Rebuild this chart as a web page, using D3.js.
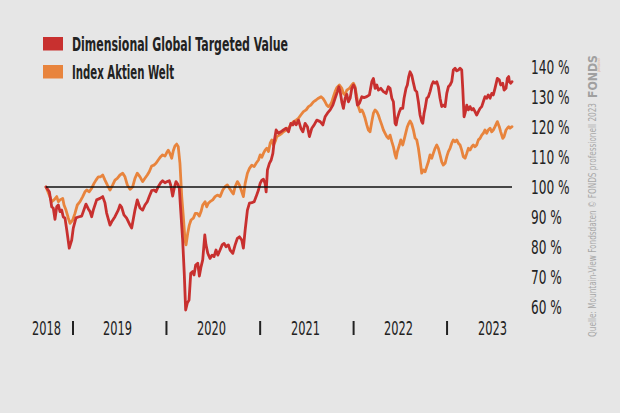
<!DOCTYPE html>
<html><head><meta charset="utf-8">
<script src="https://cdn.jsdelivr.net/npm/d3@7"></script>
<style>
html,body{margin:0;padding:0;background:#e6e6e6;}
svg{display:block;}
text{font-family:"Liberation Sans Narrow","DejaVu Sans Condensed","Roboto",sans-serif;}
</style></head>
<body>
<svg id="chart" width="620" height="413"></svg>
<script>
// Series: [decimal year, value in %]
const seriesNames = ["Dimensional Global Targeted Value", "Index Aktien Welt"];
const seriesColors = ["#c8302f", "#e8843d"];
const dimSeries = [[2018.711,100],[2018.747,98.4],[2018.772,93.4],[2018.789,93.0],[2018.807,89.2],[2018.826,93.4],[2018.843,94.0],[2018.861,91.8],[2018.879,92.3],[2018.896,90.0],[2018.914,89.7],[2018.933,85.7],[2018.960,79.6],[2018.986,82.3],[2019.003,86.3],[2019.032,89.7],[2019.057,90.0],[2019.093,90.3],[2019.110,91.8],[2019.139,94.3],[2019.164,92.7],[2019.182,91.8],[2019.200,90.1],[2019.217,92.3],[2019.253,95.7],[2019.289,96.2],[2019.318,96.8],[2019.342,94.7],[2019.360,91.3],[2019.396,87.3],[2019.414,88.4],[2019.449,90.1],[2019.484,92.3],[2019.503,94.0],[2019.521,93.2],[2019.545,90.7],[2019.574,89.6],[2019.610,87.3],[2019.628,86.3],[2019.663,92.3],[2019.688,95.7],[2019.717,93.0],[2019.745,92.3],[2019.770,94.0],[2019.795,95.1],[2019.816,96.8],[2019.842,98.8],[2019.866,99.0],[2019.888,98.4],[2019.912,100.1],[2019.938,101.4],[2019.959,102.1],[2019.984,101.4],[2020.009,101.8],[2020.030,102.1],[2020.045,100.7],[2020.066,97.0],[2020.083,99.6],[2020.102,101.8],[2020.120,101.0],[2020.137,99.6],[2020.152,92.3],[2020.173,82.3],[2020.190,71.2],[2020.205,59.0],[2020.222,61.3],[2020.241,62.3],[2020.259,71.2],[2020.280,71.8],[2020.294,70.7],[2020.312,74.0],[2020.334,74.6],[2020.351,70.3],[2020.369,73.4],[2020.387,75.7],[2020.409,84.0],[2020.422,80.7],[2020.441,77.9],[2020.465,76.2],[2020.487,77.3],[2020.508,76.8],[2020.529,79.0],[2020.548,77.3],[2020.572,79.0],[2020.594,80.7],[2020.615,81.2],[2020.636,80.1],[2020.661,80.7],[2020.679,79.0],[2020.708,77.9],[2020.733,80.7],[2020.757,82.9],[2020.779,83.4],[2020.804,82.3],[2020.821,79.6],[2020.840,85.7],[2020.864,92.3],[2020.886,94.6],[2020.911,94.8],[2020.936,95.1],[2020.957,96.8],[2020.982,99.0],[2021.000,101.2],[2021.018,102.3],[2021.035,102.6],[2021.053,101.2],[2021.064,98.4],[2021.078,105.7],[2021.099,107.9],[2021.118,109.0],[2021.136,111.2],[2021.150,115.1],[2021.171,119.0],[2021.196,117.9],[2021.221,118.4],[2021.249,119.0],[2021.278,119.6],[2021.303,118.4],[2021.328,121.2],[2021.350,120.7],[2021.364,121.8],[2021.385,120.7],[2021.410,122.3],[2021.435,119.6],[2021.457,118.4],[2021.481,121.2],[2021.506,120.1],[2021.527,116.8],[2021.553,119.6],[2021.578,120.7],[2021.606,122.3],[2021.642,121.8],[2021.671,120.7],[2021.695,123.4],[2021.720,124.6],[2021.749,125.7],[2021.778,127.3],[2021.802,129.6],[2021.827,131.8],[2021.842,133.4],[2021.856,131.8],[2021.874,128.4],[2021.891,126.2],[2021.909,129.6],[2021.927,130.9],[2021.944,128.4],[2021.963,129.6],[2021.981,132.9],[2021.998,134.0],[2022.016,132.9],[2022.027,130.1],[2022.041,127.3],[2022.062,127.9],[2022.088,130.1],[2022.112,129.8],[2022.141,130.1],[2022.169,130.7],[2022.195,135.1],[2022.212,136.2],[2022.230,132.9],[2022.248,134.0],[2022.265,132.3],[2022.291,132.9],[2022.319,131.8],[2022.348,131.2],[2022.372,133.4],[2022.390,132.9],[2022.409,129.6],[2022.426,128.4],[2022.444,121.2],[2022.455,120.7],[2022.468,122.9],[2022.490,125.1],[2022.505,126.2],[2022.526,126.2],[2022.540,129.6],[2022.561,132.9],[2022.575,134.0],[2022.590,136.8],[2022.604,138.4],[2022.622,137.3],[2022.640,134.7],[2022.658,132.3],[2022.676,131.7],[2022.693,128.4],[2022.711,124.0],[2022.729,121.8],[2022.740,121.2],[2022.754,124.6],[2022.765,126.2],[2022.783,129.6],[2022.800,130.1],[2022.818,131.8],[2022.836,134.0],[2022.853,135.1],[2022.872,134.6],[2022.890,135.1],[2022.907,133.4],[2022.925,129.6],[2022.943,126.8],[2022.960,127.3],[2022.979,126.8],[2022.997,131.2],[2023.014,133.4],[2023.032,134.0],[2023.050,135.1],[2023.067,139.0],[2023.086,139.6],[2023.104,138.7],[2023.121,139.0],[2023.139,139.6],[2023.157,139.0],[2023.168,132.9],[2023.182,123.4],[2023.193,124.6],[2023.211,127.3],[2023.228,125.7],[2023.246,126.8],[2023.264,125.7],[2023.281,126.2],[2023.299,125.1],[2023.317,124.0],[2023.335,125.1],[2023.353,126.2],[2023.371,126.8],[2023.388,128.4],[2023.406,130.1],[2023.424,129.6],[2023.441,130.7],[2023.460,129.6],[2023.478,131.2],[2023.495,130.7],[2023.513,132.9],[2023.538,136.2],[2023.559,135.7],[2023.574,134.0],[2023.596,134.6],[2023.610,132.3],[2023.631,132.9],[2023.645,136.2],[2023.660,136.8],[2023.667,135.1],[2023.682,134.6],[2023.695,135.1]];
const idxSeries = [[2018.711,100],[2018.747,97.3],[2018.772,95.1],[2018.797,95.7],[2018.826,96.8],[2018.843,95.1],[2018.861,95.7],[2018.890,96.2],[2018.904,94.0],[2018.925,92.3],[2018.950,89.6],[2018.968,87.9],[2018.997,89.0],[2019.021,91.2],[2019.046,94.0],[2019.075,95.1],[2019.104,96.8],[2019.128,98.4],[2019.147,99.0],[2019.174,98.4],[2019.200,99.6],[2019.225,101.2],[2019.246,102.3],[2019.271,103.4],[2019.296,103.4],[2019.318,104.0],[2019.342,102.3],[2019.367,100.7],[2019.396,99.0],[2019.425,100.7],[2019.449,102.3],[2019.474,102.9],[2019.503,104.0],[2019.532,104.6],[2019.556,103.4],[2019.581,100.7],[2019.610,99.2],[2019.639,100.1],[2019.663,102.9],[2019.688,104.6],[2019.717,103.4],[2019.745,101.8],[2019.770,102.9],[2019.795,104.0],[2019.816,105.1],[2019.842,107.0],[2019.866,107.3],[2019.888,107.9],[2019.912,109.0],[2019.938,110.1],[2019.959,110.7],[2019.984,110.3],[2020.002,111.4],[2020.019,112.3],[2020.037,111.2],[2020.056,109.6],[2020.073,112.1],[2020.091,113.7],[2020.109,114.3],[2020.126,113.4],[2020.144,107.9],[2020.163,96.8],[2020.180,90.1],[2020.198,82.3],[2020.209,80.7],[2020.227,84.6],[2020.244,87.3],[2020.262,89.0],[2020.287,89.6],[2020.308,91.2],[2020.329,91.2],[2020.351,90.3],[2020.369,91.8],[2020.387,94.0],[2020.412,95.1],[2020.430,93.4],[2020.447,94.6],[2020.465,95.1],[2020.494,95.7],[2020.519,96.8],[2020.543,97.3],[2020.572,96.8],[2020.601,99.0],[2020.626,100.1],[2020.650,100.7],[2020.672,99.6],[2020.697,98.4],[2020.714,97.7],[2020.733,100.1],[2020.757,101.8],[2020.779,100.7],[2020.804,98.4],[2020.821,96.8],[2020.840,101.2],[2020.864,104.6],[2020.886,106.2],[2020.911,107.3],[2020.936,106.8],[2020.957,107.9],[2020.982,109.0],[2021.000,110.7],[2021.018,109.9],[2021.035,111.2],[2021.053,112.3],[2021.071,112.9],[2021.089,111.8],[2021.107,114.6],[2021.125,115.7],[2021.142,114.0],[2021.160,115.1],[2021.178,116.8],[2021.206,117.3],[2021.232,117.9],[2021.249,118.4],[2021.278,119.0],[2021.303,119.6],[2021.328,120.7],[2021.356,121.8],[2021.385,122.3],[2021.410,122.9],[2021.435,124.0],[2021.463,125.1],[2021.492,125.7],[2021.517,126.8],[2021.542,127.3],[2021.570,128.4],[2021.599,129.0],[2021.624,129.6],[2021.652,130.1],[2021.671,129.6],[2021.695,128.4],[2021.713,127.3],[2021.731,126.8],[2021.749,127.3],[2021.767,128.4],[2021.784,130.1],[2021.802,131.8],[2021.820,133.1],[2021.848,134.0],[2021.874,132.9],[2021.891,131.2],[2021.909,130.7],[2021.927,132.3],[2021.955,132.9],[2021.981,134.0],[2021.998,134.6],[2022.016,133.4],[2022.034,130.1],[2022.051,126.8],[2022.070,125.1],[2022.088,125.7],[2022.105,124.6],[2022.123,122.9],[2022.141,120.7],[2022.158,119.0],[2022.176,118.4],[2022.195,121.8],[2022.212,124.6],[2022.230,125.7],[2022.248,125.1],[2022.265,124.0],[2022.283,122.3],[2022.301,120.7],[2022.319,119.0],[2022.337,117.9],[2022.355,116.8],[2022.372,116.2],[2022.390,117.3],[2022.409,115.1],[2022.426,113.4],[2022.444,110.7],[2022.455,109.6],[2022.468,111.8],[2022.490,114.0],[2022.505,115.7],[2022.526,114.0],[2022.540,115.7],[2022.561,118.4],[2022.575,120.1],[2022.590,121.2],[2022.604,122.0],[2022.622,121.0],[2022.640,119.0],[2022.658,116.3],[2022.676,115.7],[2022.693,113.0],[2022.711,109.0],[2022.729,104.6],[2022.746,105.7],[2022.765,105.1],[2022.783,106.8],[2022.800,108.4],[2022.818,110.7],[2022.836,109.6],[2022.853,111.2],[2022.872,112.9],[2022.890,114.0],[2022.907,112.9],[2022.925,110.7],[2022.943,108.4],[2022.960,107.3],[2022.979,107.9],[2022.997,110.1],[2023.014,111.8],[2023.032,112.9],[2023.050,114.6],[2023.067,115.7],[2023.086,115.1],[2023.104,115.7],[2023.121,114.6],[2023.139,114.0],[2023.157,112.3],[2023.174,110.1],[2023.193,109.6],[2023.211,111.2],[2023.228,112.9],[2023.246,112.3],[2023.264,113.4],[2023.281,114.0],[2023.299,113.4],[2023.317,114.0],[2023.335,115.7],[2023.353,116.2],[2023.371,117.3],[2023.388,117.9],[2023.406,119.0],[2023.424,117.9],[2023.441,119.0],[2023.460,119.6],[2023.478,118.4],[2023.495,119.0],[2023.513,120.1],[2023.538,121.8],[2023.559,120.1],[2023.574,118.4],[2023.596,116.2],[2023.610,116.8],[2023.631,119.0],[2023.645,119.6],[2023.660,120.1],[2023.674,119.6],[2023.695,120.1]];

const yTicks = [60, 70, 80, 90, 100, 110, 120, 130, 140];
const yearLabels = ["2018", "2019", "2020", "2021", "2022", "2023"];
const yearLabelPos = [2018.711, 2019.47, 2020.476, 2021.48, 2022.476, 2023.48];
const yearSeparators = [2019, 2020, 2021, 2022, 2023];
const baseline = 100;
const sourceText = "Quelle: Mountain-View Fondsdaten  \u00A9 FONDS professionell 2023";

function toDate(y) {
  const yr = Math.floor(y);
  const s = new Date(yr, 0, 1), e = new Date(yr + 1, 0, 1);
  return new Date(+s + (y - yr) * (e - s));
}
// condensed look: narrow glyph advance per character
function narrowLen(str, perChar) {
  let w = 0;
  for (const c of str) w += (c === " " ? 0.45 : c === "%" ? 1.5 : 1) * perChar;
  return w;
}

const svg = d3.select("#chart");
svg.append("rect").attr("width", 620).attr("height", 413).attr("fill", "#e6e6e6");

const allDates = dimSeries.concat(idxSeries).map(d => toDate(d[0]));
const x = d3.scaleTime().domain(d3.extent(allDates)).range([46, 512]);
const y = d3.scaleLinear().domain([60, 140]).range([307, 67]);

const line = d3.line().x(d => x(toDate(d[0]))).y(d => y(d[1])).curve(d3.curveLinear);

svg.append("path").datum(idxSeries).attr("d", line)
  .attr("fill", "none").attr("stroke", seriesColors[1]).attr("stroke-width", 2.8)
  .attr("stroke-linejoin", "round").attr("stroke-linecap", "round");
svg.append("path").datum(dimSeries).attr("d", line)
  .attr("fill", "none").attr("stroke", seriesColors[0]).attr("stroke-width", 2.8)
  .attr("stroke-linejoin", "round").attr("stroke-linecap", "round");

// baseline at 100 %
svg.append("line")
  .attr("x1", x(d3.min(allDates))).attr("x2", x(d3.max(allDates)))
  .attr("y1", y(baseline)).attr("y2", y(baseline))
  .attr("stroke", "#111").attr("stroke-width", 1.5);

// y axis (right)
const yAxis = d3.axisRight(y).tickValues(yTicks).tickSize(0).tickPadding(0)
  .tickFormat(d => d + " %");
const gy = svg.append("g").attr("transform", "translate(531,0)").call(yAxis);
gy.select(".domain").remove();
gy.selectAll("text").attr("fill", "#222").attr("font-size", 19)
  .attr("font-family", '"DejaVu Sans Condensed",sans-serif')
  .attr("dy", "0.36em")
  .attr("lengthAdjust", "spacingAndGlyphs")
  .attr("textLength", function () { return narrowLen(this.textContent, 7.8); });

// x axis labels
const xAxis = d3.axisBottom(x).tickValues(yearLabelPos.map(toDate)).tickSize(0).tickPadding(0)
  .tickFormat((d, i) => yearLabels[i]);
const gx = svg.append("g").attr("transform", "translate(0,328)").call(xAxis);
gx.select(".domain").remove();
gx.selectAll("text").attr("fill", "#222").attr("font-size", 19)
  .attr("font-family", '"DejaVu Sans Condensed",sans-serif')
  .attr("dy", "0.36em")
  .attr("lengthAdjust", "spacingAndGlyphs")
  .attr("textLength", 29);

// year separators
svg.append("g").selectAll("line").data(yearSeparators).join("line")
  .attr("x1", d => x(toDate(d))).attr("x2", d => x(toDate(d)))
  .attr("y1", 321).attr("y2", 335)
  .attr("stroke", "#222").attr("stroke-width", 2);

// legend
const legendLen = [216, 102];
const lg = svg.append("g");
seriesNames.forEach((name, i) => {
  lg.append("rect").attr("x", 43).attr("y", 37 + i * 28).attr("width", 20).attr("height", 13.5)
    .attr("fill", seriesColors[i]);
  lg.append("text").attr("x", 72).attr("y", 51 + i * 28)
    .attr("font-size", 19).attr("font-weight", "bold").attr("fill", "#222")
    .attr("font-family", '"DejaVu Sans Condensed",sans-serif')
    .attr("lengthAdjust", "spacingAndGlyphs").attr("textLength", legendLen[i])
    .text(name);
});

// source (vertical)
svg.append("text")
  .attr("transform", "translate(596,337) rotate(-90)")
  .attr("font-size", 10.5).attr("fill", "#a8a8a8")
  .attr("font-family", '"DejaVu Sans Condensed",sans-serif')
  .attr("lengthAdjust", "spacingAndGlyphs").attr("textLength", 234)
  .text(sourceText);
svg.append("text")
  .attr("transform", "translate(597,98) rotate(-90)")
  .attr("font-size", 13).attr("font-weight", "bold").attr("fill", "#a0a0a0")
  .attr("font-family", '"DejaVu Sans Condensed",sans-serif')
  .attr("lengthAdjust", "spacingAndGlyphs").attr("textLength", 43)
  .text("FONDS");
svg.append("text")
  .attr("transform", "translate(600,72) rotate(-90)")
  .attr("font-size", 4).attr("fill", "#e0a98a")
  .attr("font-family", '"DejaVu Sans Condensed",sans-serif')
  .attr("lengthAdjust", "spacingAndGlyphs").attr("textLength", 14)
  .text("professionell");
</script>
</body></html>
